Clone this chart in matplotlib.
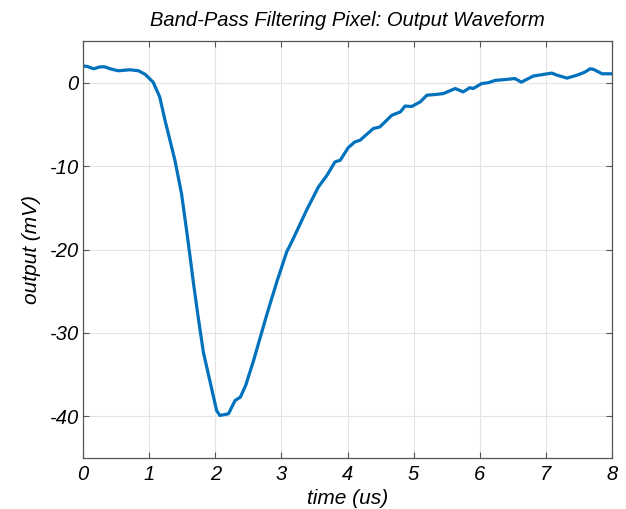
import matplotlib
matplotlib.use("Agg")
import matplotlib.pyplot as plt

time_us = [0.0, 0.065, 0.16, 0.26, 0.33, 0.41, 0.53, 0.71, 0.84, 0.94, 1.06, 1.16, 1.24, 1.39, 1.49, 1.57,
           1.62, 1.67, 1.74, 1.82, 1.92, 2.02, 2.07, 2.20, 2.30, 2.38, 2.46, 2.58, 2.78, 2.93, 3.08, 3.18,
           3.38, 3.56, 3.69, 3.81, 3.89, 4.01, 4.11, 4.19, 4.39, 4.49, 4.67, 4.80, 4.87, 4.97, 5.10, 5.20,
           5.35, 5.45, 5.63, 5.75, 5.85, 5.9, 6.03, 6.13, 6.23, 6.41, 6.53, 6.63, 6.81, 7.09, 7.17, 7.32,
           7.47, 7.59, 7.67, 7.72, 7.85, 8.0]
output_mV = [2.0, 1.95, 1.67, 1.9, 1.9, 1.67, 1.43, 1.55, 1.43, 1.0, 0.07, -1.7, -4.5, -9.3, -13.3, -17.9,
             -20.9, -24.0, -28.0, -32.3, -35.8, -39.3, -39.9, -39.7, -38.1, -37.7, -36.3, -33.3, -27.8, -23.9, -20.3, -18.7,
             -15.3, -12.5, -11.1, -9.5, -9.3, -7.8, -7.1, -6.9, -5.5, -5.3, -3.9, -3.5, -2.8, -2.85, -2.3, -1.5,
             -1.4, -1.3, -0.7, -1.1, -0.6, -0.7, -0.1, 0.0, 0.27, 0.4, 0.5, 0.07, 0.8, 1.15, 0.9, 0.55,
             0.9, 1.27, 1.67, 1.6, 1.07, 1.07]

x_ticks = [0, 1, 2, 3, 4, 5, 6, 7, 8]
y_ticks = [-40, -30, -20, -10, 0]

plt.rcParams['font.family'] = ['Liberation Sans', 'DejaVu Sans']

fig = plt.figure(figsize=(6.26, 5.09), dpi=100)
ax = fig.add_axes([83/626, 1 - 458/509, (612-83)/626, (458-41)/509])

ax.plot(time_us, output_mV, color='#0072BD', linewidth=2.3, solid_joinstyle='round')

ax.set_xlim(0, 8)
ax.set_ylim(-45, 5)
ax.set_xticks(x_ticks)
ax.set_yticks(y_ticks)
ax.set_xticklabels([str(v) for v in x_ticks], fontsize=14.5, style='italic')
ax.set_yticklabels([str(v) for v in y_ticks], fontsize=14.5, style='italic')
ax.grid(True, color='#e3e3e3', linewidth=0.8)
ax.set_axisbelow(True)
ax.tick_params(direction='in', length=4, width=0.8, color='#555555', top=True, right=True)
ax.tick_params(axis='x', pad=5)
ax.tick_params(axis='y', pad=3)
for s in ax.spines.values():
    s.set_color('#555555')
    s.set_linewidth(0.9)

ax.set_title('Band-Pass Filtering Pixel: Output Waveform', fontsize=14.5, style='italic', pad=11)
ax.set_xlabel('time (us)', fontsize=15, style='italic', labelpad=4)
ax.set_ylabel('output (mV)', fontsize=15, style='italic', labelpad=6)

fig.savefig('out.png', dpi=100)
